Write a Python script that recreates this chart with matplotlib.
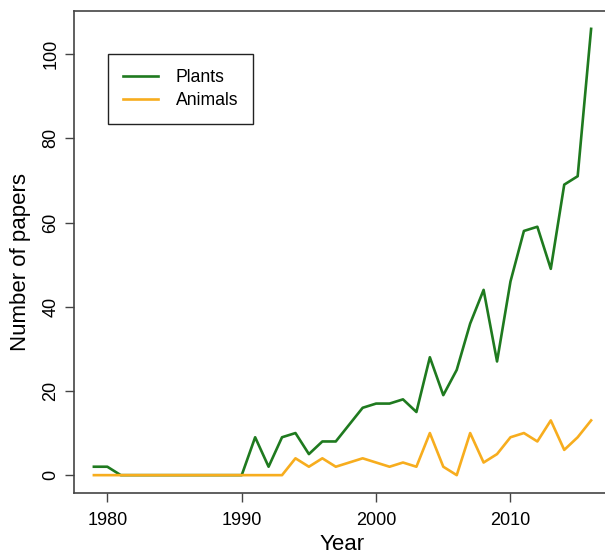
import numpy as np
import matplotlib as mpl
import matplotlib.pyplot as plt

mpl.rcParams['font.family'] = ['Liberation Sans', 'DejaVu Sans']

# data
years = list(range(1979, 2017))
plants = [2, 2, 0, 0, 0, 0, 0, 0, 0, 0, 0, 0,       # 1979-1990
          9, 2, 9, 10, 5, 8, 8, 12, 16,            # 1991-1999
          17, 17, 18, 15, 28, 19, 25, 36, 44, 27,  # 2000-2009
          46, 58, 59, 49, 69, 71, 106]             # 2010-2016
animals = [0, 0, 0, 0, 0, 0, 0, 0, 0, 0, 0, 0,      # 1979-1990
           0, 0, 0, 4, 2, 4, 2, 3, 4,              # 1991-1999
           3, 2, 3, 2, 10, 2, 0, 10, 3, 5,         # 2000-2009
           9, 10, 8, 13, 6, 9, 13]                 # 2010-2016
series_names = ['Plants', 'Animals']
green = '#1f7a1f'
orange = '#f7ad1e'

fig = plt.figure(figsize=(6.05, 5.54), dpi=100)
ax = fig.add_axes([74/605, 61/554, 537/605, 482/554])

ax.plot(years, plants, color=green, lw=1.9, label=series_names[0])
ax.plot(years, animals, color=orange, lw=1.9, label=series_names[1])

# R style 4% padding
xr = max(years) - min(years)
ax.set_xlim(min(years) - 0.04*xr, max(years) + 0.04*xr)
yr = max(plants) - 0
ax.set_ylim(-0.04*yr, max(plants) + 0.04*yr)

ax.set_xticks([1980, 1990, 2000, 2010])
ax.set_yticks([0, 20, 40, 60, 80, 100])
ax.tick_params(axis='both', length=6.5, width=1, color='#444444', labelsize=13)
ax.tick_params(axis='x', pad=7)
ax.tick_params(axis='y', pad=4)
for lab in ax.get_yticklabels():
    lab.set_rotation(90)
    lab.set_va('center')

for sp in ax.spines.values():
    sp.set_color('#444444')
    sp.set_linewidth(1.2)

ax.set_xlabel('Year', fontsize=16, labelpad=4)
ax.set_ylabel('Number of papers', fontsize=16)
ax.yaxis.set_label_coords(-0.08, 0.48)

leg = ax.legend(loc='upper left', bbox_to_anchor=(108/605, 1 - 54/554),
                bbox_transform=fig.transFigure, borderaxespad=0,
                fontsize=12.7, handlelength=2.0, handletextpad=1.0,
                borderpad=0.85, labelspacing=0.35, fancybox=False,
                framealpha=1, edgecolor='#222222')
leg.get_frame().set_linewidth(1.0)

fig.savefig('out.png', dpi=100)
